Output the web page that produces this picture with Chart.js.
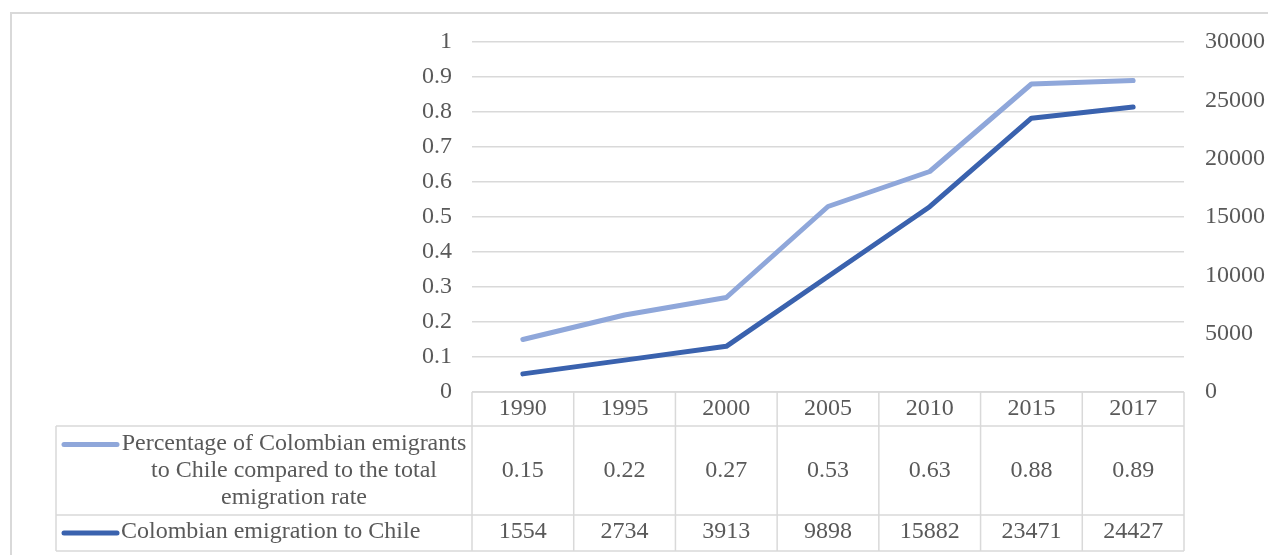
<!DOCTYPE html>
<html>
<head>
<meta charset="utf-8">
<script src="https://cdn.jsdelivr.net/npm/chart.js@4"></script>
<style>
  html, body { margin: 0; padding: 0; background: #fff; }
  #wrap { width: 1268px; height: 555px; position: relative; }
</style>
</head>
<body>
<div id="wrap"><canvas id="chart"></canvas></div>
<script>
const years = ['1990', '1995', '2000', '2005', '2010', '2015', '2017'];
const shareValues = [0.15, 0.22, 0.27, 0.53, 0.63, 0.88, 0.89];
const countValues = [1554, 2734, 3913, 9898, 15882, 23471, 24427];
const shareLabel = 'Percentage of Colombian emigrants to Chile compared to the total emigration rate';
const countLabel = 'Colombian emigration to Chile';

const textColor = '#595959';
const gridColor = '#d9d9d9';
const fontFamily = '"Liberation Serif", "Times New Roman", serif';
const fontSize = 24;

// splits a label into lines no wider than maxW
function wrapText(ctx, text, maxW) {
  const words = text.split(' ');
  const lines = [];
  let cur = '';
  words.forEach(w => {
    const test = cur ? cur + ' ' + w : w;
    if (ctx.measureText(test).width > maxW && cur) {
      lines.push(cur);
      cur = w;
    } else {
      cur = test;
    }
  });
  if (cur) lines.push(cur);
  return lines;
}

// draws the outer frame and the data table under the plot
const dataTable = {
  id: 'dataTable',
  afterDraw(chart) {
    const ctx = chart.ctx;
    const x = chart.scales.x;
    const area = chart.chartArea;
    const half = (x.getPixelForValue(1) - x.getPixelForValue(0)) / 2;
    const legendLeft = 56;
    const rowTop = [area.bottom, area.bottom + 34, area.bottom + 123];
    const rowBottom = [area.bottom + 34, area.bottom + 123, area.bottom + 159];

    ctx.save();
    ctx.strokeStyle = gridColor;
    ctx.lineWidth = 2;
    ctx.strokeRect(11, 13, 1300, 600);

    ctx.lineWidth = 1.5;
    // horizontal lines
    ctx.beginPath();
    ctx.moveTo(area.left, rowTop[0]); ctx.lineTo(area.right, rowTop[0]);
    [rowTop[1], rowTop[2], rowBottom[2]].forEach(y => {
      ctx.moveTo(legendLeft, y); ctx.lineTo(area.right, y);
    });
    // vertical lines
    ctx.moveTo(legendLeft, rowTop[1]); ctx.lineTo(legendLeft, rowBottom[2]);
    years.forEach((y, i) => {
      const px = x.getPixelForValue(i) - half;
      ctx.moveTo(px, rowTop[0]); ctx.lineTo(px, rowBottom[2]);
    });
    ctx.moveTo(area.right, rowTop[0]); ctx.lineTo(area.right, rowBottom[2]);
    ctx.stroke();

    ctx.fillStyle = textColor;
    ctx.font = fontSize + 'px ' + fontFamily;
    ctx.textAlign = 'center';
    ctx.textBaseline = 'middle';
    years.forEach((y, i) => {
      const px = x.getPixelForValue(i);
      ctx.fillText(y, px, (rowTop[0] + rowBottom[0]) / 2);
      ctx.fillText(String(shareValues[i]), px, (rowTop[1] + rowBottom[1]) / 2);
      ctx.fillText(String(countValues[i]), px, (rowTop[2] + rowBottom[2]) / 2 - 1);
    });

    // legend keys + names
    const ds = chart.data.datasets;
    const textCenter = 294;
    const lineH = 27;
    const lines = wrapText(ctx, shareLabel, 352);
    const y0 = (rowTop[1] + rowBottom[1]) / 2 - (lines.length - 1) * lineH / 2;
    lines.forEach((l, i) => ctx.fillText(l, textCenter, y0 + i * lineH));
    ctx.textAlign = 'left';
    ctx.fillText(countLabel, 121, (rowTop[2] + rowBottom[2]) / 2 - 1);

    ctx.lineCap = 'round';
    ctx.lineWidth = 5;
    ctx.strokeStyle = ds[0].borderColor;
    ctx.beginPath(); ctx.moveTo(64, y0 + 1); ctx.lineTo(117, y0 + 1); ctx.stroke();
    ctx.strokeStyle = ds[1].borderColor;
    const y2 = (rowTop[2] + rowBottom[2]) / 2;
    ctx.beginPath(); ctx.moveTo(64, y2); ctx.lineTo(117, y2); ctx.stroke();
    ctx.restore();
  }
};

const ctx = document.getElementById('chart').getContext('2d');
const chart = new Chart(ctx, {
  type: 'line',
  data: {
    labels: years,
    datasets: [{
      label: shareLabel,
      data: shareValues,
      yAxisID: 'y',
      borderColor: '#8fa7da',
      borderWidth: 5,
      borderCapStyle: 'round',
      borderJoinStyle: 'round',
      pointRadius: 0,
      tension: 0
    }, {
      label: countLabel,
      data: countValues,
      yAxisID: 'y1',
      borderColor: '#3a62ae',
      borderWidth: 5,
      borderCapStyle: 'round',
      borderJoinStyle: 'round',
      pointRadius: 0,
      tension: 0
    }]
  },
  options: {
    responsive: true,
    maintainAspectRatio: false,
    animation: false,
    layout: { padding: { top: 42, bottom: 163, left: 0, right: 0 } },
    plugins: {
      legend: { display: false },
      tooltip: { enabled: false }
    },
    scales: {
      x: {
        display: false,
        offset: true
      },
      y: {
        position: 'left',
        min: 0,
        max: 1,
        ticks: {
          stepSize: 0.1,
          color: textColor,
          font: { family: fontFamily, size: fontSize },
          padding: 20,
          callback: v => String(+v.toFixed(1))
        },
        grid: { color: gridColor, lineWidth: 1.5, drawTicks: false },
        border: { display: false },
        afterFit(scale) { scale.width = 472; }
      },
      y1: {
        position: 'right',
        min: 0,
        max: 30000,
        ticks: {
          stepSize: 5000,
          color: textColor,
          font: { family: fontFamily, size: fontSize },
          padding: 13,
          callback: v => String(v)
        },
        grid: { display: false },
        border: { display: false },
        afterFit(scale) { scale.width = 84; }
      }
    }
  },
  plugins: [dataTable]
});
</script>
</body>
</html>
